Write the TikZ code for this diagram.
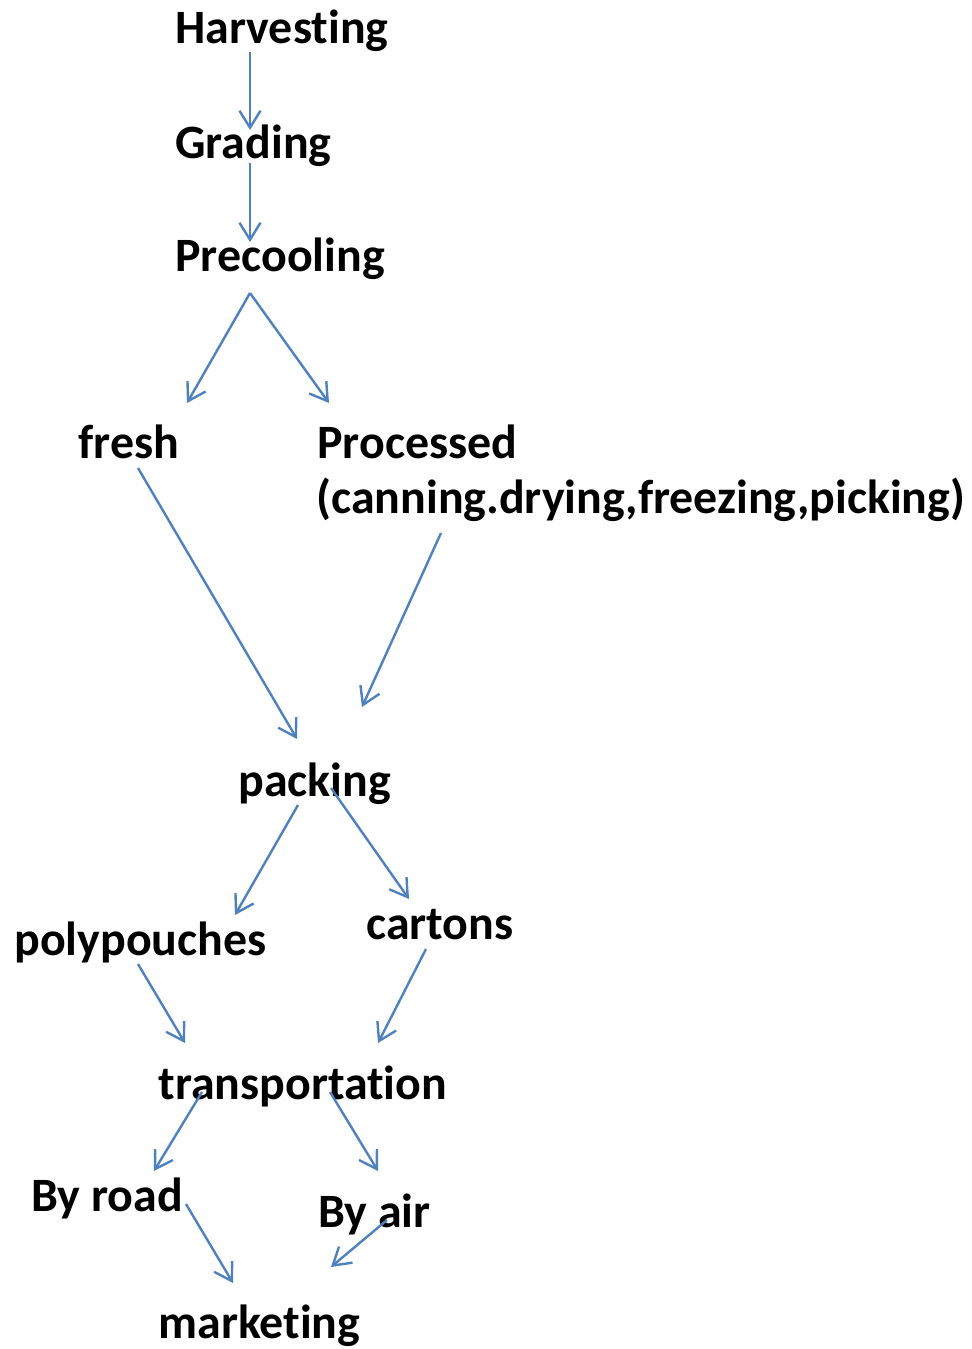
\documentclass[tikz,border=0pt]{standalone}
\usepackage{fontspec}
\setmainfont{Carlito}[RawFeature=-liga]
\usetikzlibrary{arrows.meta}
\usetikzlibrary{positioning}
\definecolor{flowblue}{HTML}{4F81BD}

\begin{document}
\begin{tikzpicture}[x=0.5pt,y=-0.5pt,->,>={Straight Barb[length=8.5pt,width=10.5pt]},
	lbl/.style={anchor=base west,inner sep=0pt,font=\fontsize{23.95}{28}\selectfont\bfseries},
	flow/.style={draw=flowblue,line width=1.2pt}]
			\useasboundingbox (0,0) rectangle (971,1349);
			\node[lbl] (harv) at (175,43) {Harvesting};
			\node[lbl] (grad) at (175,158) {Grading};
			\node[lbl] (prec) at (175,271) {Precooling};
			\node[lbl] (fresh) at (78,458) {fresh};
			\node[lbl] (proc) at (317,458) {Processed};
			\node[lbl] (canning) at (316,513) {(canning.drying,freezing,picking)};
			\node[lbl] (pack) at (238,796) {packing};
			\node[lbl] (poly) at (14,955) {polypouches};
			\node[lbl] (cart) at (366,939) {cartons};
			\node[lbl] (trans) at (158,1099) {transportation};
			\node[lbl] (road) at (31,1211) {By road};
			\node[lbl] (air) at (318,1227) {By air};
			\node[lbl] (mark) at (158,1338) {marketing};
			\draw[flow] ([shift={(75,9)}]harv.base west) -- ([shift={(75,-28)}]grad.base west);
			\draw[flow] ([shift={(75,5)}]grad.base west) -- ([shift={(75,-29)}]prec.base west);
			\draw[flow] ([shift={(75,22)}]prec.base west) -- ([shift={(109,-55)}]fresh.base west);
			\draw[flow] ([shift={(75,22)}]prec.base west) -- ([shift={(12,-55)}]proc.base west);
			\draw[flow] ([shift={(60,10)}]fresh.base west) -- ([shift={(59,-57)}]pack.base west);
			\draw[flow] ([shift={(125,20)}]canning.base west) -- ([shift={(124,-89)}]pack.base west);
			\draw[flow] ([shift={(60,9)}]pack.base west) -- ([shift={(221,-40)}]poly.base west);
			\draw[flow] ([shift={(93,-8)}]pack.base west) -- ([shift={(43,-40)}]cart.base west);
			\draw[flow] ([shift={(124,9)}]poly.base west) -- ([shift={(27,-56)}]trans.base west);
			\draw[flow] ([shift={(60,10)}]cart.base west) -- ([shift={(220,-56)}]trans.base west);
			\draw[flow] ([shift={(44,-7)}]trans.base west) -- ([shift={(123,-40)}]road.base west);
			\draw[flow] ([shift={(172,-7)}]trans.base west) -- ([shift={(60,-56)}]air.base west);
			\draw[flow] ([shift={(155,-7)}]road.base west) -- ([shift={(75,-55)}]mark.base west);
			\draw[flow] ([shift={(69,-7)}]air.base west) -- ([shift={(173,-71)}]mark.base west);
\end{tikzpicture}
\end{document}
